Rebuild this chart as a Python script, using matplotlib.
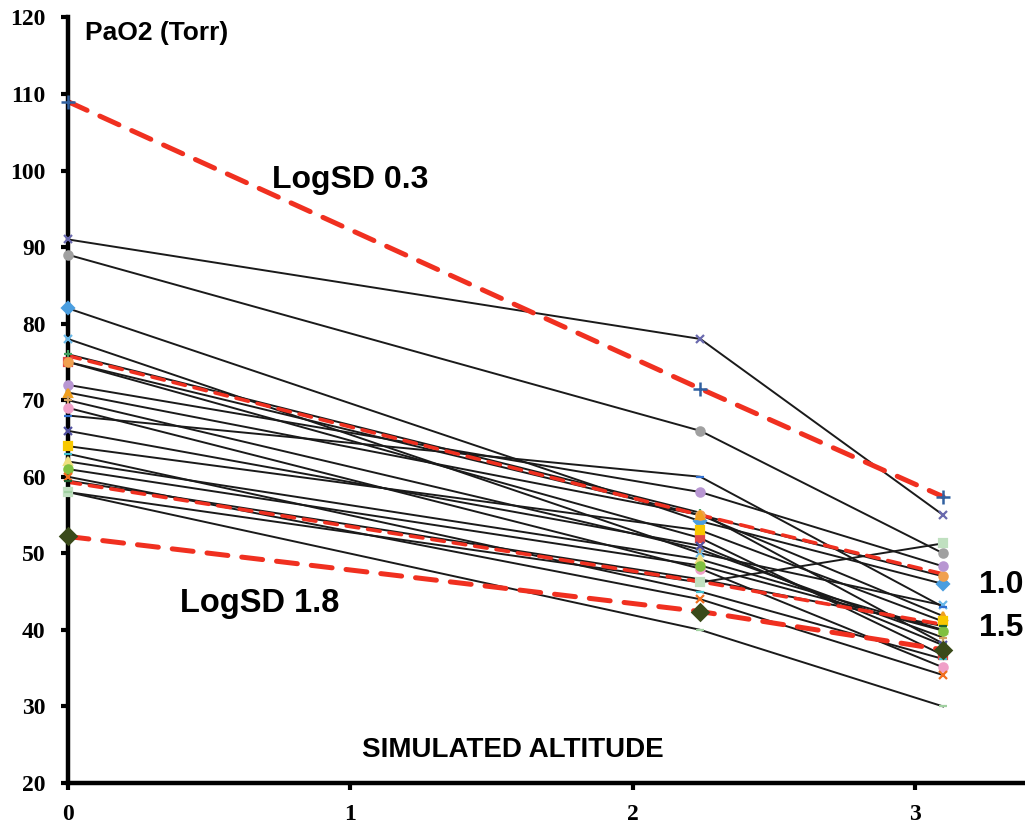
import matplotlib
matplotlib.use("Agg")
import matplotlib.pyplot as plt

# x positions (simulated altitude)
altitude = [0.0, 2.24, 3.1]

# individual subjects: PaO2 at each altitude
subj_values = [
    [91.0, 78.0, 55.0],
    [89.0, 66.0, 50.0],
    [82.0, 54.2, 46.0],
    [78.0, 50.0, 43.2],
    [76.0, 55.3, 38.2],
    [75.0, 52.0, 36.7],
    [75.0, 55.0, 47.0],
    [72.0, 58.0, 48.3],
    [71.0, 55.0, 41.8],
    [70.0, 50.5, 39.0],
    [69.0, 48.0, 35.1],
    [68.0, 60.0, 43.0],
    [66.0, 51.0, 38.0],
    [64.0, 53.0, 41.1],
    [63.0, 45.0, 36.2],
    [62.0, 49.2, 40.0],
    [61.0, 48.4, 39.9],
    [60.0, 44.0, 34.1],
    [59.5, 46.6, 40.5],
    [58.0, 46.2, 51.3],
    [58.0, 40.0, 30.0],
]
subj_markers = ['x', 'o', 'D', 'x', '+', 's', 'o', 'o', '^', '+', 'o', '_',
                'x', 's', '_', '^', 'o', 'x', '_', 's', '_']
subj_colors = ['#6a6aae', '#a0a0a0', '#4a9ee0', '#6ab8e8', '#40a060', '#e04848',
               '#f0a050', '#b896d2', '#f0a020', '#d0a060', '#f0a0c8', '#3070d0',
               '#5050a0', '#f8c800', '#40c0d0', '#f0e080', '#80c040', '#f07020',
               '#206030', '#c0e0c0', '#a0d0a0']

# model lines (LogSD)
model_labels = ['0.3', '1.0', '1.5', '1.8']
model_values = [
    [109.0, 71.5, 57.4],
    [75.8, 55.0, 47.3],
    [59.3, 46.3, 40.7],
    [52.2, 42.4, 37.4],
]
model_markers = ['+', None, None, 'D']
model_marker_colors = ['#3060a0', '#e03030', '#e03030', '#3a4a1a']
model_widths = [3.6, 2.6, 2.6, 3.6]

fig = plt.figure(figsize=(10.25, 8.25), dpi=100)
ax = fig.add_axes([0.0663, 0.0509, 0.9337, 0.928])

for vals, m, c in zip(subj_values, subj_markers, subj_colors):
    ax.plot(altitude, vals, color='#1a1a1a', lw=1.4, zorder=2)
    ax.plot(altitude, vals, linestyle='none', marker=m, color=c,
            markersize=6, markeredgewidth=1.6, zorder=6, clip_on=False)

for vals, m, mc, lw in zip(model_values, model_markers, model_marker_colors, model_widths):
    ax.plot(altitude, vals, color='#f03020', lw=lw,
            dashes=(4.2, 2.8) if lw > 3 else (3.5, 2.5),
            zorder=3, dash_capstyle='round')
    if m is not None:
        ax.plot(altitude, vals, linestyle='none', marker=m, color=mc,
                markersize=10 if m == '+' else 8, markeredgewidth=1.8,
                zorder=7, clip_on=False)

ax.set_xlim(0, 3.39)
ax.set_ylim(20, 120)
ax.set_xticks([0, 1, 2, 3])
ax.set_yticks(range(20, 121, 10))
for s in ['top', 'right']:
    ax.spines[s].set_visible(False)
for s in ['left', 'bottom']:
    ax.spines[s].set_linewidth(3.2)
    ax.spines[s].set_color('black')
    ax.spines[s].set_zorder(5)
ax.tick_params(axis='both', direction='out', length=5, width=3, color='black')
ax.tick_params(axis='y', pad=11)
ax.tick_params(axis='x', pad=10)
for lab in ax.get_xticklabels() + ax.get_yticklabels():
    lab.set_fontfamily('Liberation Serif')
    lab.set_fontweight('bold')
    lab.set_fontsize(17)

ax.text(0.06, 117.9, 'PaO2 (Torr)', fontsize=19, fontweight='bold',
        family='Liberation Sans', va='center', ha='left')
ax.text(0.723, 98.7, 'LogSD 0.3', fontsize=23, fontweight='bold',
        family='Liberation Sans', va='center', ha='left')
ax.text(0.397, 43.5, 'LogSD 1.8', fontsize=23.5, fontweight='bold',
        family='Liberation Sans', va='center', ha='left')
ax.text(3.227, 45.8, '1.0', fontsize=23, fontweight='bold',
        family='Liberation Sans', va='center', ha='left')
ax.text(3.227, 40.2, '1.5', fontsize=23, fontweight='bold',
        family='Liberation Sans', va='center', ha='left')
ax.text(1.574, 24.3, 'SIMULATED ALTITUDE', fontsize=20, fontweight='bold',
        family='Liberation Sans', va='center', ha='center')

fig.savefig('out.png', dpi=100)
